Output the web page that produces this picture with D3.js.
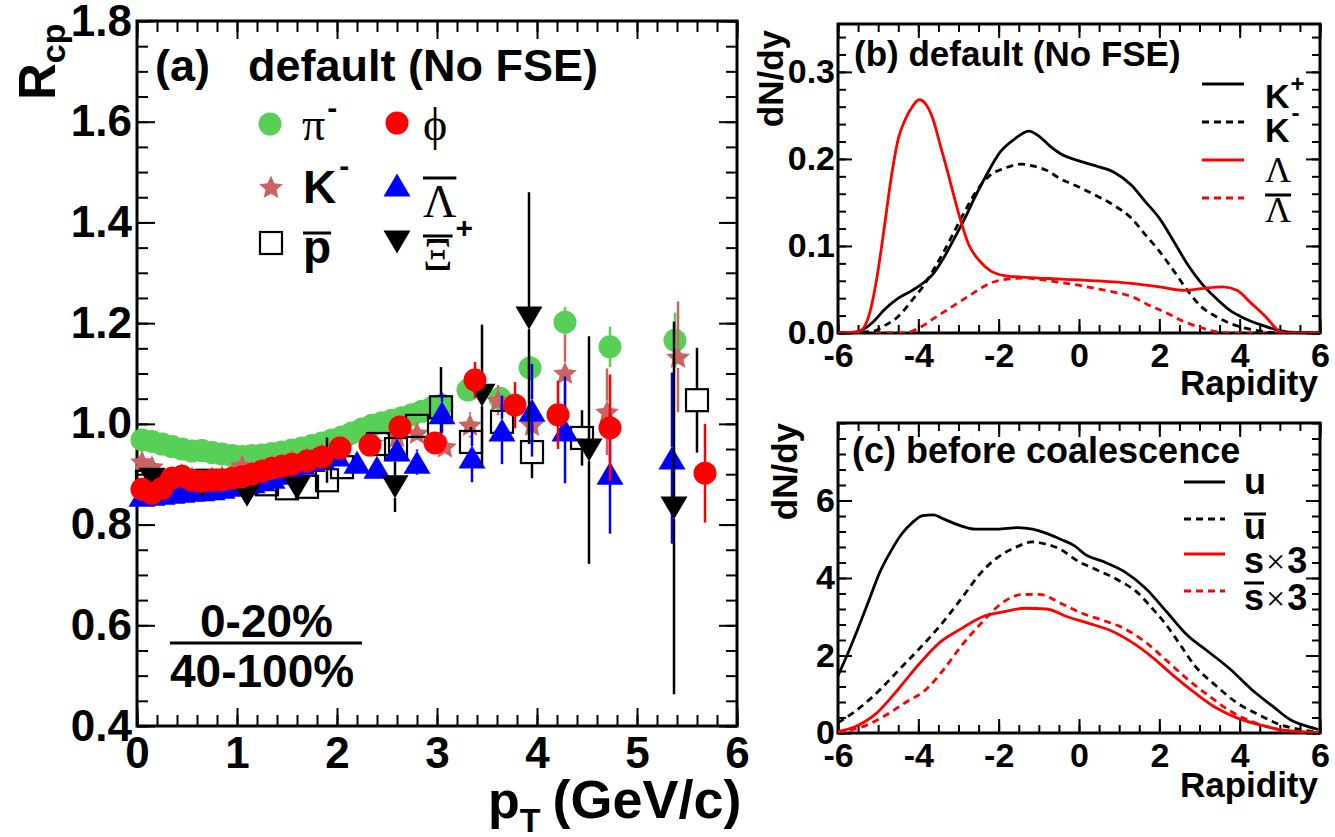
<!DOCTYPE html>
<html>
<head>
<meta charset="utf-8">
<script src="https://cdn.jsdelivr.net/npm/d3@7"></script>
<style>
  body { margin: 0; background: #fff; }
</style>
</head>
<body>
<div id="viz"></div>
<script>
// R_cp vs pT (panel a) and dN/dy vs rapidity (panels b, c)

// ---- panel (a): R_cp values per particle ----
const piPt  = [0.05,0.15,0.25,0.35,0.45,0.55,0.65,0.75,0.85,0.95,1.05,1.15,1.25,1.35,1.45,1.55,1.65,1.75,1.85,1.95,2.05,2.15,2.25,2.35,2.45,2.55,2.65,2.75,2.85,2.95,3.05,3.31,3.63,3.93,4.28,4.73,5.38];
const piR   = [0.968,0.965,0.960,0.955,0.950,0.946,0.947,0.943,0.940,0.937,0.935,0.937,0.938,0.941,0.944,0.948,0.952,0.957,0.962,0.968,0.974,0.982,0.990,0.997,1.002,1.007,1.012,1.018,1.025,1.032,1.037,1.067,1.051,1.111,1.202,1.153,1.166];
const piErr = [0.004,0.004,0.004,0.004,0.004,0.004,0.004,0.004,0.004,0.004,0.004,0.004,0.005,0.005,0.005,0.005,0.005,0.006,0.006,0.006,0.006,0.007,0.007,0.007,0.008,0.008,0.009,0.009,0.010,0.010,0.011,0.015,0.020,0.025,0.030,0.040,0.055];

const kmPt  = [0.05,0.15,0.25,0.35,0.45,0.55,0.65,0.75,0.85,0.95,1.05,1.15,1.25,1.35,1.45,1.55,1.70,1.85,2.05,2.35,2.60,2.80,3.08,3.33,3.61,3.95,4.28,4.70,5.41];
const kmR   = [0.925,0.915,0.885,0.895,0.900,0.893,0.890,0.893,0.895,0.898,0.917,0.905,0.911,0.917,0.921,0.926,0.933,0.940,0.955,0.962,0.975,0.982,0.955,0.998,1.047,0.998,1.101,1.024,1.133];
const kmErr = [0.006,0.006,0.006,0.006,0.006,0.006,0.006,0.006,0.006,0.006,0.006,0.007,0.007,0.007,0.008,0.008,0.009,0.010,0.012,0.014,0.016,0.018,0.020,0.025,0.030,0.040,0.075,0.086,0.110];

const pbPt  = [0.10,0.30,0.50,0.70,0.90,1.10,1.30,1.50,1.70,1.90,2.05,2.41,2.59,2.80,3.04,3.34,3.65,3.95,4.45,5.60];
const pbR   = [0.885,0.882,0.885,0.887,0.886,0.885,0.880,0.872,0.875,0.888,0.914,0.960,0.950,0.996,1.033,0.964,1.004,0.944,0.972,1.047];
const pbErr = [0.008,0.008,0.008,0.008,0.008,0.009,0.009,0.010,0.010,0.012,0.013,0.015,0.020,0.020,0.080,0.030,0.035,0.052,0.055,0.104];

const lbPt  = [0.05,0.15,0.25,0.35,0.45,0.55,0.65,0.75,0.85,0.95,1.05,1.15,1.25,1.35,1.45,1.55,1.65,1.75,1.85,2.00,2.20,2.40,2.60,2.80,3.05,3.35,3.65,3.95,4.28,4.73,5.35];
const lbR   = [0.858,0.860,0.862,0.864,0.866,0.868,0.869,0.871,0.874,0.878,0.881,0.885,0.889,0.894,0.902,0.912,0.922,0.927,0.932,0.938,0.924,0.914,0.948,0.924,1.022,0.934,0.988,1.027,0.988,0.902,0.932];
const lbErr = [0.005,0.005,0.005,0.005,0.005,0.005,0.005,0.005,0.005,0.005,0.006,0.006,0.006,0.006,0.007,0.007,0.008,0.008,0.009,0.010,0.010,0.015,0.020,0.025,0.040,0.050,0.068,0.092,0.106,0.120,0.170];

const xiPt  = [0.15,0.65,1.10,1.60,1.90,2.58,3.45,3.92,4.52,5.37];
const xiR   = [0.890,0.878,0.858,0.872,0.928,0.875,1.057,1.210,0.948,0.833];
const xiErr = [0.010,0.012,0.015,0.020,0.045,0.050,0.140,0.250,0.226,0.370];

const phPt  = [0.05,0.15,0.25,0.35,0.45,0.55,0.65,0.75,0.85,0.95,1.05,1.15,1.25,1.35,1.45,1.55,1.70,1.85,2.03,2.33,2.63,2.98,3.38,3.78,4.21,4.73,5.68];
const phR   = [0.870,0.862,0.872,0.892,0.896,0.888,0.886,0.888,0.889,0.892,0.895,0.900,0.906,0.912,0.916,0.920,0.926,0.934,0.952,0.958,0.994,0.962,1.087,1.037,1.018,0.992,0.902];
const phErr = [0.006,0.006,0.006,0.006,0.006,0.006,0.006,0.006,0.006,0.006,0.006,0.006,0.007,0.007,0.007,0.008,0.008,0.009,0.010,0.015,0.020,0.020,0.036,0.046,0.068,0.106,0.098];

// ---- panel (b): dN/dy vs rapidity, default (No FSE) ----
const kpX = [-6,-5.74,-5.47,-5.12,-4.86,-4.5,-4.15,-3.89,-3.63,-3.36,-3.1,-2.84,-2.57,-2.31,-1.96,-1.6,-1.25,-0.99,-0.73,-0.46,-0.02,0.42,0.86,1.3,1.65,2.0,2.35,2.7,3.05,3.41,3.76,4.11,4.55,4.9,5.25,6];
const kpY = [0,0,0.002,0.013,0.026,0.040,0.049,0.057,0.068,0.087,0.109,0.132,0.158,0.181,0.208,0.223,0.232,0.226,0.215,0.206,0.198,0.192,0.185,0.170,0.151,0.132,0.106,0.079,0.057,0.040,0.026,0.017,0.009,0.004,0.001,0];
const kmX = [-6,-5.12,-4.86,-4.5,-4.15,-3.89,-3.63,-3.36,-3.1,-2.84,-2.57,-2.22,-1.87,-1.43,-1.16,-0.81,-0.46,-0.02,0.42,0.86,1.3,1.65,2.0,2.35,2.7,3.05,3.41,3.76,4.11,4.55,4.99,6];
const kmY = [0,0.002,0.008,0.019,0.038,0.053,0.072,0.094,0.117,0.140,0.162,0.181,0.189,0.194,0.192,0.187,0.177,0.168,0.158,0.147,0.132,0.113,0.094,0.072,0.049,0.030,0.019,0.011,0.006,0.002,0,0];
const laX = [-6,-5.47,-5.21,-5.03,-4.86,-4.68,-4.5,-4.33,-4.15,-3.98,-3.8,-3.63,-3.45,-3.27,-3.1,-2.92,-2.75,-2.48,-2.22,-1.87,-1.34,-0.46,0.42,1.3,2.0,2.62,3.05,3.58,3.93,4.29,4.64,4.99,5.16,6];
const laY = [0,0.002,0.023,0.064,0.117,0.177,0.223,0.245,0.260,0.268,0.262,0.245,0.215,0.185,0.155,0.125,0.102,0.083,0.072,0.066,0.064,0.062,0.060,0.057,0.053,0.049,0.051,0.053,0.049,0.034,0.019,0.002,0,0];
const labX = [-6,-4.33,-3.98,-3.54,-3.1,-2.66,-2.22,-1.78,-1.34,-0.9,-0.46,-0.02,0.42,0.86,1.3,1.74,2.18,2.62,3.05,3.49,3.93,6];
const labY = [0,0,0.006,0.019,0.032,0.045,0.057,0.062,0.063,0.061,0.058,0.055,0.051,0.047,0.042,0.032,0.023,0.013,0.006,0.001,0,0];

// ---- panel (c): quarks before coalescence ----
const uX  = [-6,-5.74,-5.47,-5.21,-4.95,-4.68,-4.42,-4.15,-3.89,-3.63,-3.36,-3.01,-2.57,-2.04,-1.52,-1.16,-0.81,-0.46,-0.11,0.15,0.59,1.12,1.65,2.18,2.7,3.23,3.76,4.29,4.81,5.25,5.69,5.96];
const uY  = [1.48,2.09,2.78,3.48,4.17,4.70,5.13,5.43,5.61,5.63,5.52,5.37,5.26,5.26,5.30,5.26,5.15,5.00,4.83,4.61,4.43,4.17,3.74,3.13,2.52,2.09,1.65,1.13,0.70,0.35,0.17,0.09];
const ubX = [-6,-5.56,-5.03,-4.5,-3.98,-3.45,-2.92,-2.48,-2.04,-1.6,-1.16,-0.81,-0.46,-0.02,0.42,0.95,1.47,1.82,2.18,2.53,2.88,3.41,3.93,4.46,4.99,5.52,5.96];
const ubY = [0.26,0.57,1.04,1.61,2.17,2.78,3.48,4.09,4.52,4.78,4.93,4.87,4.74,4.43,4.22,3.96,3.61,3.22,2.78,2.26,1.74,1.22,0.78,0.48,0.22,0.09,0.02];
const sX  = [-6,-5.56,-5.03,-4.5,-3.98,-3.45,-2.92,-2.4,-1.87,-1.34,-0.81,-0.29,0.24,0.77,1.3,1.82,2.35,2.88,3.41,3.93,4.46,4.99,5.43,5.96];
const sY  = [0.04,0.17,0.52,1.13,1.78,2.35,2.70,3.00,3.13,3.22,3.20,3.00,2.83,2.65,2.35,1.96,1.48,1.04,0.65,0.39,0.22,0.09,0.04,0];
const sbX = [-6,-5.47,-4.86,-4.33,-3.8,-3.36,-2.92,-2.4,-1.87,-1.43,-0.99,-0.46,0.07,0.59,1.12,1.65,2.18,2.7,3.23,3.76,4.29,4.81,5.34,5.96];
const sbY = [0.02,0.13,0.43,0.78,1.13,1.65,2.26,2.87,3.39,3.57,3.58,3.35,3.09,2.91,2.70,2.35,1.87,1.39,0.96,0.57,0.30,0.13,0.04,0];

// ---- tick labels ----
const ptTicks  = [0,1,2,3,4,5,6];
const rcpTicks = [0.4,0.6,0.8,1.0,1.2,1.4,1.6,1.8];
const rapTicks = [-6,-4,-2,0,2,4,6];
const bTicks   = [0,0.1,0.2,0.3];
const cTicks   = [0,2,4,6];

const SANS  = "'Liberation Sans', Arial, Helvetica, sans-serif";
const SERIF = "'Liberation Serif', 'Times New Roman', 'DejaVu Serif', serif";

const svg = d3.select("#viz").append("svg")
  .attr("width", 1335)
  .attr("height", 837)
  .style("background", "#fff");

//scales
const xA = d3.scaleLinear().domain([0, 6]).range([137, 737]);
const yA = d3.scaleLinear().domain([0.4, 1.8]).range([726, 21]);
const xB = d3.scaleLinear().domain([-6, 6]).range([838, 1320]);
const yB = d3.scaleLinear().domain([0, 0.355]).range([333, 24]);
const xC = d3.scaleLinear().domain([-6, 6]).range([838, 1320]);
const yC = d3.scaleLinear().domain([0, 8]).range([733, 423]);

//plain hyphen for negatives, like the original
const intFmt = d => String(d);

//one axis side: ticks pointing into the frame
function side(g, axis, tr, values, len, fmt, pad, fs) {
  const a = g.append("g").attr("transform", tr)
    .call(axis.tickValues(values).tickSize(-len).tickPadding(pad).tickFormat(fmt || (() => "")));
  a.select(".domain").remove();
  a.selectAll("line").attr("stroke", "#000").attr("stroke-width", 2);
  a.selectAll("text")
    .attr("font-family", SANS).attr("font-weight", "bold")
    .attr("font-size", fs).attr("fill", "#000");
}

function frame(x, y, c) {
  const g = svg.append("g");
  const [xl, xr] = x.range();
  const [yb, yt] = y.range();
  side(g, d3.axisBottom(x), `translate(0,${yb})`, c.xMaj, c.maj, c.xFmt, c.xPad, c.fs);
  side(g, d3.axisBottom(x), `translate(0,${yb})`, c.xMin, c.min, null, 0, c.fs);
  side(g, d3.axisTop(x), `translate(0,${yt})`, c.xMaj, c.maj, null, 0, c.fs);
  side(g, d3.axisTop(x), `translate(0,${yt})`, c.xMin, c.min, null, 0, c.fs);
  side(g, d3.axisLeft(y), `translate(${xl},0)`, c.yMaj, c.maj, c.yFmt, c.yPad, c.fs);
  side(g, d3.axisLeft(y), `translate(${xl},0)`, c.yMin, c.min, null, 0, c.fs);
  side(g, d3.axisRight(y), `translate(${xr},0)`, c.yMaj, c.maj, null, 0, c.fs);
  side(g, d3.axisRight(y), `translate(${xr},0)`, c.yMin, c.min, null, 0, c.fs);
  g.append("rect")
    .attr("x", xl).attr("y", yt).attr("width", xr - xl).attr("height", yb - yt)
    .attr("fill", "none").attr("stroke", "#000").attr("stroke-width", 3);
  return g;
}

//text made of pieces (sub/superscripts, overbars)
function rich(g, x, y, parts) {
  let cx = x;
  parts.forEach(p => {
    const px = cx + (p.dx || 0), py = y + (p.dy || 0);
    const t = g.append("text")
      .attr("x", px).attr("y", py)
      .attr("font-family", p.font || SANS)
      .attr("font-weight", p.weight || "bold")
      .attr("font-size", p.size)
      .attr("fill", p.color || "#000")
      .text(p.t);
    const w = t.node().getComputedTextLength();
    if (p.bar !== undefined) {
      g.append("line")
        .attr("x1", px).attr("x2", px + w)
        .attr("y1", p.bar).attr("y2", p.bar)
        .attr("stroke", "#000").attr("stroke-width", 3);
    }
    cx = px + w;
  });
  return cx;
}

// ---------------- panel (a) ----------------
frame(xA, yA, {
  xMaj: ptTicks, xMin: d3.range(0, 6.01, 0.2), yMaj: rcpTicks, yMin: d3.range(0.4, 1.81, 0.05),
  maj: 18, min: 11, fs: 44, xPad: 11, yPad: 5,
  xFmt: intFmt, yFmt: d3.format(".1f")
});

const MS = 11.5;
//fat five-pointed star like ROOT's marker
function starPath(ro, ri) {
  const pts = d3.range(10).map(k => {
    const a = -Math.PI / 2 + k * Math.PI / 5, r = k % 2 ? ri : ro;
    return [r * Math.cos(a), r * Math.sin(a)];
  });
  return "M" + pts.map(p => p.join(",")).join("L") + "Z";
}
function markerPath(shape) {
  if (shape === "tri")  return `M0,${-MS} L${MS + 2},${MS} L${-MS - 2},${MS} Z`;
  if (shape === "itri") return `M0,${MS} L${MS + 2},${-MS} L${-MS - 2},${-MS} Z`;
  if (shape === "star") return starPath(12.5, 5.8);
  return null;
}
function marker(g, shape, color, cx, cy) {
  if (shape === "circle") {
    g.append("circle").attr("cx", cx).attr("cy", cy).attr("r", MS).attr("fill", color);
  } else if (shape === "square") {
    g.append("rect").attr("x", cx - 11).attr("y", cy - 11).attr("width", 22).attr("height", 22)
      .attr("fill", "none").attr("stroke", color).attr("stroke-width", 2.2);
  } else {
    g.append("path").attr("d", markerPath(shape))
      .attr("transform", `translate(${cx},${cy + (shape === "star" ? 1 : 0)})`).attr("fill", color);
  }
}

const particles = [
  { pt: piPt, r: piR, err: piErr, shape: "circle", color: "#58d058" },
  { pt: kmPt, r: kmR, err: kmErr, shape: "star",   color: "#cd6262" },
  { pt: pbPt, r: pbR, err: pbErr, shape: "square", color: "#000000" },
  { pt: lbPt, r: lbR, err: lbErr, shape: "tri",    color: "#0000ff" },
  { pt: xiPt, r: xiR, err: xiErr, shape: "itri",   color: "#000000" },
  { pt: phPt, r: phR, err: phErr, shape: "circle", color: "#ff0000" }
];

const gA = svg.append("g");
particles.forEach(s => {
  s.pt.forEach((pt, i) => {
    const cx = xA(pt), cy = yA(s.r[i]);
    const up = yA(s.r[i] + s.err[i]), dn = yA(s.r[i] - s.err[i]);
    const gap = 11;
    if (cy - up > gap) {
      gA.append("line").attr("x1", cx).attr("x2", cx).attr("y1", cy - gap).attr("y2", up)
        .attr("stroke", s.color).attr("stroke-width", 2.5);
      gA.append("line").attr("x1", cx).attr("x2", cx).attr("y1", cy + gap).attr("y2", dn)
        .attr("stroke", s.color).attr("stroke-width", 2.5);
    }
    marker(gA, s.shape, s.color, cx, cy);
  });
});

//axis titles (a)
svg.append("text")
  .attr("transform", "translate(55,100) rotate(-90)")
  .attr("font-family", SANS).attr("font-weight", "bold").attr("font-size", 51)
  .text("R")
  .append("tspan").attr("font-size", 34).attr("dy", 10).text("cp");
rich(svg, 488, 818, [
  { t: "p", size: 52 },
  { t: "T", size: 34, dy: 14 },
  { t: "(GeV/c)", size: 54, dx: 12 }
]);

//labels and legend (a)
rich(svg, 155, 81, [{ t: "(a)", size: 45 }]);
rich(svg, 248, 81, [{ t: "default (No FSE)", size: 45 }]);

const legA = svg.append("g");
marker(legA, "circle", "#58d058", 270, 124);
marker(legA, "circle", "#ff0000", 397, 123);
marker(legA, "star", "#cd6262", 271, 187);
marker(legA, "tri", "#0000ff", 397, 185);
marker(legA, "square", "#000000", 271, 243);
marker(legA, "itri", "#000000", 397, 242);
rich(legA, 302, 140, [{ t: "π", font: SERIF, weight: "normal", size: 46 }, { t: "-", size: 30, dy: -22, dx: 2 }]);
rich(legA, 423, 140, [{ t: "ϕ", font: SERIF, weight: "normal", size: 46 }]);
rich(legA, 303, 203, [{ t: "K", size: 46 }, { t: "-", size: 30, dy: -27, dx: 3 }]);
rich(legA, 423, 217, [{ t: "Λ", font: SERIF, weight: "normal", size: 46, bar: 178 }]);
rich(legA, 303, 263, [{ t: "p", size: 46, bar: 233 }]);
rich(legA, 423, 270, [{ t: "Ξ", font: SERIF, weight: "normal", size: 46, bar: 236 }, { t: "+", size: 30, dy: -32, dx: 3 }]);

//centrality ratio
rich(svg, 200, 637, [{ t: "0-20%", size: 46 }]);
svg.append("line").attr("x1", 170).attr("x2", 362).attr("y1", 643).attr("y2", 643)
  .attr("stroke", "#000").attr("stroke-width", 3);
rich(svg, 170, 687, [{ t: "40-100%", size: 46 }]);

// ---------------- panels (b) and (c) ----------------
function curves(x, y, list, clipId) {
  const [xl, xr] = x.range();
  const [yb, yt] = y.range();
  svg.append("clipPath").attr("id", clipId)
    .append("rect").attr("x", xl).attr("y", yt).attr("width", xr - xl).attr("height", yb - yt);
  const line = d3.line().x(d => x(d[0])).y(d => y(d[1])).curve(d3.curveMonotoneX);
  const g = svg.append("g").attr("clip-path", `url(#${clipId})`);
  list.forEach(c => {
    g.append("path")
      .attr("d", line(d3.zip(c.x, c.y)))
      .attr("fill", "none")
      .attr("stroke", c.color)
      .attr("stroke-width", 2.8)
      .attr("stroke-dasharray", c.dash ? "7,5" : null);
  });
}

const rapMin = d3.range(-6, 6.01, 0.5);
frame(xB, yB, {
  xMaj: rapTicks, xMin: rapMin, yMaj: bTicks, yMin: d3.range(0, 0.355, 0.02),
  maj: 14, min: 8, fs: 34, xPad: 10, yPad: 3,
  xFmt: intFmt, yFmt: d3.format(".1f")
});
curves(xB, yB, [
  { x: labX, y: labY, color: "#ff0000", dash: true },
  { x: kmX, y: kmY, color: "#000", dash: true },
  { x: kpX, y: kpY, color: "#000", dash: false },
  { x: laX, y: laY, color: "#ff0000", dash: false }
], "clipB");

frame(xC, yC, {
  xMaj: rapTicks, xMin: rapMin, yMaj: cTicks, yMin: d3.range(0, 8.01, 0.4),
  maj: 14, min: 8, fs: 34, xPad: 10, yPad: 3,
  xFmt: intFmt, yFmt: intFmt
});
curves(xC, yC, [
  { x: sbX, y: sbY, color: "#ff0000", dash: true },
  { x: ubX, y: ubY, color: "#000", dash: true },
  { x: uX, y: uY, color: "#000", dash: false },
  { x: sX, y: sY, color: "#ff0000", dash: false }
], "clipC");

//titles (b), (c)
[[783, 30], [797, 423]].forEach(([bx, top]) => {
  svg.append("text")
    .attr("transform", `translate(${bx},${top}) rotate(-90)`)
    .attr("text-anchor", "end")
    .attr("font-family", SANS).attr("font-weight", "bold").attr("font-size", 35)
    .text("dN/dy");
});
[395, 797].forEach(base => {
  svg.append("text")
    .attr("x", 1318).attr("y", base).attr("text-anchor", "end")
    .attr("font-family", SANS).attr("font-weight", "bold").attr("font-size", 35)
    .text("Rapidity");
});
rich(svg, 854, 66, [{ t: "(b) default (No FSE)", size: 35 }]);
rich(svg, 852, 463, [{ t: "(c) before coalescence", size: 36 }]);

//legend (b)
const legB = svg.append("g");
const legBRows = [84, 122, 160, 198];
[["#000", false], ["#000", true], ["#ff0000", false], ["#ff0000", true]].forEach(([col, dash], i) => {
  legB.append("line").attr("x1", 1202).attr("x2", 1244)
    .attr("y1", legBRows[i]).attr("y2", legBRows[i])
    .attr("stroke", col).attr("stroke-width", 2.8).attr("stroke-dasharray", dash ? "7,5" : null);
});
rich(legB, 1265, 108, [{ t: "K", size: 34 }, { t: "+", size: 24, dy: -16, dx: 1 }]);
rich(legB, 1265, 142, [{ t: "K", size: 34 }, { t: "-", size: 24, dy: -21, dx: 2 }]);
rich(legB, 1265, 182, [{ t: "Λ", font: SERIF, weight: "normal", size: 36 }]);
rich(legB, 1265, 222, [{ t: "Λ", font: SERIF, weight: "normal", size: 36, bar: 195 }]);

//legend (c)
const legC = svg.append("g");
const legCRows = [482, 519, 554, 591];
[["#000", false], ["#000", true], ["#ff0000", false], ["#ff0000", true]].forEach(([col, dash], i) => {
  legC.append("line").attr("x1", 1184).attr("x2", 1225)
    .attr("y1", legCRows[i]).attr("y2", legCRows[i])
    .attr("stroke", col).attr("stroke-width", 2.8).attr("stroke-dasharray", dash ? "7,5" : null);
});
rich(legC, 1244, 494, [{ t: "u", size: 36 }]);
rich(legC, 1244, 539, [{ t: "u", size: 36, bar: 514 }]);
rich(legC, 1244, 573, [{ t: "s", size: 36 }, { t: "×", font: SERIF, weight: "normal", size: 34, dx: 2 }, { t: "3", size: 36, dx: 2 }]);
rich(legC, 1244, 610, [{ t: "s", size: 36, bar: 583 }, { t: "×", font: SERIF, weight: "normal", size: 34, dx: 2 }, { t: "3", size: 36, dx: 2 }]);
</script>
</body>
</html>
